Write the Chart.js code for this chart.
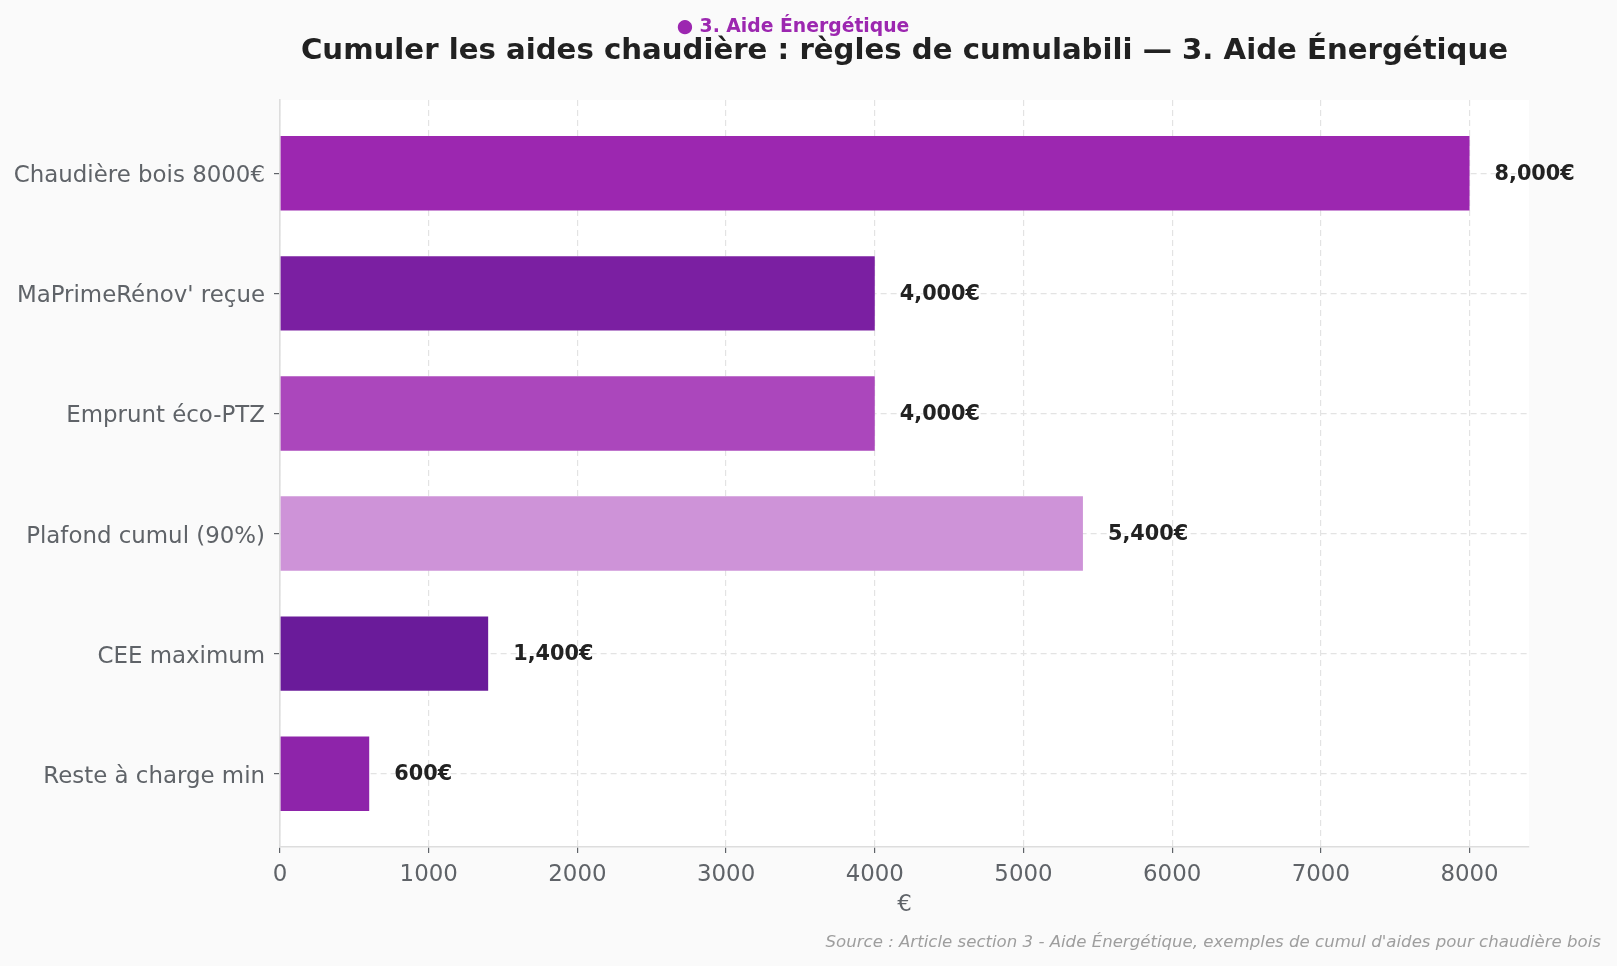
<!DOCTYPE html>
<html>
<head>
<meta charset="utf-8">
<script src="https://cdn.jsdelivr.net/npm/chart.js@4.4.1/dist/chart.umd.min.js"></script>
<style>
  html, body { margin: 0; padding: 0; background: #fafafa; }
  #grafico { display: block; }
</style>
</head>
<body>
<canvas id="grafico" width="1617" height="966"></canvas>
<script>
// données
const categorias = [
  "Chaudière bois 8000€",
  "MaPrimeRénov' reçue",
  "Emprunt éco-PTZ",
  "Plafond cumul (90%)",
  "CEE maximum",
  "Reste à charge min"
];
const valores = [8000, 4000, 4000, 5400, 1400, 600];
const xTicks = [0, 1000, 2000, 3000, 4000, 5000, 6000, 7000, 8000];
const cores = ["#9c27b0", "#7b1fa2", "#ab47bc", "#ce93d8", "#6a1b9a", "#8e24aa"];

const titulo = "Cumuler les aides chaudière : règles de cumulabili — 3. Aide Énergétique";
const subtitulo = "● 3. Aide Énergétique";
const fonte = "Source : Article section 3 - Aide Énergétique, exemples de cumul d'aides pour chaudière bois";

const FONT = "'DejaVu Sans', sans-serif";

const pontos = valores.map((v, i) => ({ x: v, y: i }));

const fundoPlugin = {
  id: "fundo",
  beforeDraw(chart) {
    const { ctx, chartArea: a } = chart;
    ctx.save();
    ctx.fillStyle = "#fafafa";
    ctx.fillRect(0, 0, chart.width, chart.height);
    ctx.fillStyle = "#ffffff";
    ctx.fillRect(a.left, a.top, a.right - a.left, a.bottom - a.top);
    ctx.restore();
  }
};

const textosPlugin = {
  id: "textos",
  afterDatasetsDraw(chart) {
    const ctx = chart.ctx;
    const meta = chart.getDatasetMeta(0);
    ctx.save();
    ctx.font = "bold 20.8px " + FONT;
    ctx.fillStyle = "#222222";
    ctx.textAlign = "left";
    ctx.textBaseline = "middle";
    meta.data.forEach((bar, i) => {
      ctx.fillText(valores[i].toLocaleString("en-US") + "€", bar.x + 25, bar.y + 1);
    });
    ctx.restore();
  },
  afterDraw(chart) {
    const ctx = chart.ctx;
    const a = chart.chartArea;
    ctx.save();
    ctx.textAlign = "center";
    ctx.textBaseline = "middle";
    ctx.fillStyle = "#9c27b0";
    ctx.font = "bold 18.8px " + FONT;
    ctx.fillText(subtitulo, 793, 27);
    ctx.fillStyle = "#212121";
    ctx.font = "bold 29.2px " + FONT;
    ctx.fillText(titulo, (a.left + a.right) / 2, 51);
    ctx.textAlign = "right";
    ctx.fillStyle = "#9e9e9e";
    ctx.font = "italic 16.6px " + FONT;
    ctx.fillText(fonte, 1601, 943);
    ctx.restore();
  }
};

new Chart(document.getElementById("grafico"), {
  type: "bar",
  data: {
    datasets: [{
      data: pontos,
      backgroundColor: cores,
      borderWidth: 0,
      categoryPercentage: 1,
      barPercentage: 0.62
    }]
  },
  options: {
    indexAxis: "y",
    responsive: false,
    animation: false,
    devicePixelRatio: 1,
    layout: { padding: { left: 0, top: 100, right: 88, bottom: 0 } },
    plugins: {
      legend: { display: false },
      tooltip: { enabled: false }
    },
    scales: {
      x: {
        type: "linear",
        min: 0,
        max: 8400,
        afterBuildTicks: (axis) => { axis.ticks = xTicks.map(v => ({ value: v })); },
        afterFit: (axis) => { axis.height = 119; },
        ticks: {
          color: "#5f6368",
          font: { family: FONT, size: 22.9 },
          padding: 8,
          callback: (v) => String(v)
        },
        grid: {
          color: "#e3e3e3",
          lineWidth: 1.2,
          tickColor: "#5f6368",
          tickLength: 6,
          tickWidth: 1.2
        },
        border: { display: true, color: "#dddddd", width: 1.6, dash: [6, 4] },
        title: {
          display: true,
          text: "€",
          color: "#5f6368",
          font: { family: FONT, size: 22.9 },
          padding: { top: 4, bottom: 47 }
        }
      },
      y: {
        type: "linear",
        reverse: true,
        offset: false,
        min: -0.61,
        max: 5.61,
        afterFit: (axis) => { axis.width = 280; },
        afterBuildTicks: (axis) => { axis.ticks = categorias.map((c, i) => ({ value: i })); },
        ticks: {
          autoSkip: false,
          color: "#5f6368",
          font: { family: FONT, size: 22.9 },
          padding: 9,
          labelOffset: 3,
          callback: (v) => categorias[v]
        },
        grid: {
          offset: false,
          color: "#e3e3e3",
          lineWidth: 1.2,
          tickColor: "#5f6368",
          tickLength: 6,
          tickWidth: 1.2
        },
        border: { display: true, color: "#dddddd", width: 1.6, dash: [6, 4] }
      }
    }
  },
  plugins: [fundoPlugin, textosPlugin]
});
</script>
</body>
</html>
